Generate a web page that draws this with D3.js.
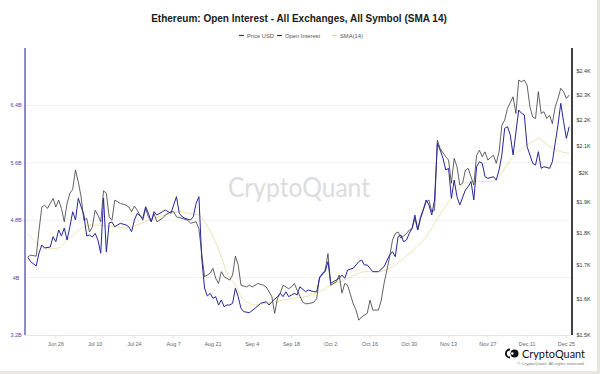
<!DOCTYPE html>
<html><head><meta charset="utf-8">
<script src="https://cdn.jsdelivr.net/npm/d3@7"></script>
<style>body{margin:0;background:#fff;overflow:hidden} svg{display:block;font-family:"Liberation Sans",Arial,sans-serif;}</style>
</head><body><svg id="chart" width="600" height="374"></svg>
<script>
// ---------- data ----------
const firstDay = "2023-06-15";           // day 0 of the day offsets below
const xDomain = ["2023-06-15", "2023-12-27"];
const xTickDates = ["2023-06-26","2023-07-10","2023-07-24","2023-08-07","2023-08-21","2023-09-04","2023-09-18","2023-10-02","2023-10-16","2023-10-30","2023-11-13","2023-11-27","2023-12-11","2023-12-25"];
const leftTicks = [3.2, 4, 4.8, 5.6, 6.4];
const leftTickLabels = ["3.2B","4B","4.8B","5.6B","6.4B"];
const leftDomain = [3.2, 7.2];
const rightTicks = [1500,1600,1700,1800,1900,2000,2100,2200,2300,2400];
const rightTickLabels = ["$1.5K","$1.6K","$1.7K","$1.8K","$1.9K","$2K","$2.1K","$2.2K","$2.3K","$2.4K"];
const rightDomain = [1500, 2500];
const seriesNames = ["Price USD","Open Interest","SMA(14)"];

const priceDays = [1,2,4,5,6,7,8,9,10,11,12,13,14,15,16,17,18,19,20,21,22,23,24,25,26,27,28,29,30,31,32,34,36,37,38,39,40,42,43,44,45,46,47,49,50,52,53,54,56,58,59,61,62,63,64,65,66,67,68,69,70,71,72,73,74,75,76,77,79,80,81,83,85,86,88,89,90,91,92,94,95,96,97,99,100,101,103,104,105,106,107,108,109,111,112,113,114,115,117,118,119,120,122,123,124,126,127,128,130,131,132,133,134,136,137,138,139,140,141,143,144,145,146,147,148,150,151,152,153,154,155,156,157,158,159,160,161,162,163,164,165,167,168,169,170,171,172,174,175,176,177,178,179,180,181,182,183,184,185,186,187,188,189,190,191,192,193,194];
const priceUSD = [1724,1729,1726,1808,1884,1890,1879,1896,1913,1884,1907,1879,1835,1896,1930,1944,2012,1970,1918,1840,1846,1802,1818,1873,1857,1835,1939,1930,1851,1840,1907,1896,1890,1884,1868,1887,1873,1840,1879,1851,1835,1862,1835,1846,1857,1868,1868,1851,1846,1840,1830,1835,1812,1734,1664,1669,1674,1689,1659,1644,1679,1664,1659,1654,1669,1726,1699,1639,1634,1639,1634,1644,1639,1634,1606,1559,1601,1616,1639,1629,1634,1644,1625,1590,1586,1586,1590,1601,1664,1669,1684,1734,1639,1649,1669,1616,1644,1639,1586,1568,1540,1549,1559,1596,1568,1568,1596,1644,1724,1776,1797,1802,1782,1797,1808,1813,1846,1808,1851,1901,1907,1868,1873,2122,2090,2060,2048,1965,2054,2024,1959,1965,2012,2018,1988,1959,2066,2084,2060,2078,2048,2066,2036,2078,2179,2199,2245,2292,2225,2361,2354,2361,2340,2251,2211,2205,2313,2225,2232,2205,2218,2185,2251,2285,2327,2313,2285,2299];

const oiDays = [1,2,4,5,6,7,9,10,11,12,13,14,15,16,17,18,19,20,21,22,23,24,25,26,27,28,29,30,31,32,34,36,37,38,39,40,42,43,44,45,46,47,49,50,52,53,54,55,56,57,59,60,61,62,63,64,65,66,67,68,69,70,71,72,73,74,75,76,77,78,80,82,84,86,87,88,90,91,92,93,94,96,97,98,100,101,103,104,105,106,107,108,109,111,112,113,114,115,117,119,120,121,122,124,126,128,130,131,132,133,134,135,136,137,138,139,140,141,142,143,144,145,146,147,148,149,150,151,152,153,154,155,157,158,159,160,161,162,163,164,165,167,168,169,170,171,172,173,174,176,177,178,179,181,182,183,184,185,187,188,189,190,191,192,193,194];
const openInterest = [4.283,4.222,4.162,4.343,4.454,4.413,4.426,4.570,4.500,4.663,4.580,4.691,4.524,4.709,4.918,4.803,5.105,4.988,4.872,4.580,4.594,4.566,4.617,4.524,4.339,5.109,4.357,4.761,4.775,4.709,4.757,4.733,4.709,4.640,4.803,4.896,4.826,4.988,4.896,4.779,4.918,4.872,4.918,4.942,4.896,5.012,5.128,4.896,4.849,4.826,4.803,4.849,5.035,5.128,4.273,3.855,3.744,3.781,3.711,3.734,3.618,3.688,3.594,3.618,3.618,3.642,3.851,3.734,3.572,3.525,3.511,3.572,3.642,3.664,3.618,3.664,3.734,3.781,3.734,3.803,3.734,3.781,3.757,3.873,3.803,3.827,3.803,3.803,3.990,4.060,4.082,4.222,3.921,3.967,3.990,4.036,3.990,4.106,4.130,4.222,4.245,4.176,4.176,4.082,4.082,4.152,4.315,4.361,4.291,4.570,4.594,4.500,4.524,4.617,4.687,4.872,4.663,4.826,4.942,5.082,5.012,4.872,5.082,5.872,5.778,5.663,5.500,5.523,5.105,5.360,5.128,5.012,5.221,5.267,5.337,5.082,5.546,5.615,5.593,5.406,5.384,5.406,5.360,5.500,5.709,6.081,6.103,5.987,5.709,6.336,6.290,6.266,5.824,5.593,5.569,5.755,5.523,5.546,5.523,5.615,5.872,6.127,6.429,6.173,5.941,6.103];

const smaDays = [1,5,8,12,14,18,21,25,29,32,36,39,43,46,50,55,58,62,64,67,70,72,75,77,80,82,86,90,95,100,105,109,114,119,121,126,131,135,139,143,146,149,152,157,160,164,168,171,174,178,182,183,185,188,191,194];
const sma14 = [4.608,4.454,4.399,4.413,4.482,4.622,4.709,4.733,4.719,4.709,4.691,4.719,4.779,4.826,4.872,4.918,4.896,4.872,4.779,4.570,4.291,4.060,3.897,3.734,3.642,3.618,3.642,3.664,3.711,3.734,3.803,3.897,3.967,4.060,4.082,4.082,4.152,4.269,4.408,4.570,4.757,4.942,5.105,5.314,5.346,5.337,5.360,5.523,5.685,5.824,5.918,5.941,5.886,5.802,5.755,5.732];

// ---------- chart ----------
const svg = d3.select("#chart");
const W = 600, H = 374;
const m = {left: 25, right: 572, top: 48, bottom: 335};
const parse = d3.timeParse("%Y-%m-%d");
const t0 = parse(firstDay);
const toDate = d => d3.timeDay.offset(t0, d);

const x = d3.scaleTime().domain(xDomain.map(parse)).range([m.left, m.right]);
const yL = d3.scaleLinear().domain(leftDomain).range([m.bottom, m.top]);
const yR = d3.scaleLog().domain(rightDomain).range([m.bottom, m.top]);

const colPrice = "#3a3a3a", colOI = "#26269a", colSMA = "#ecdfa6";

svg.append("rect").attr("width", W).attr("height", H).attr("fill", "#fff");

// gridlines
svg.append("g").selectAll("line").data(leftTicks.slice(1)).join("line")
  .attr("x1", m.left).attr("x2", m.right)
  .attr("y1", d => yL(d)).attr("y2", d => yL(d))
  .attr("stroke", "#ececec").attr("stroke-width", 0.8);

// watermark
svg.append("text").attr("x", 299).attr("y", 197).attr("text-anchor", "middle")
  .attr("font-family", "Lato, 'Open Sans', sans-serif").attr("font-size", 26)
  .attr("textLength", 142).attr("lengthAdjust", "spacingAndGlyphs")
  .attr("fill", "#dcdce0").text("CryptoQuant");

// x axis baseline and ticks
svg.append("line").attr("x1", m.left).attr("x2", m.right).attr("y1", m.bottom + 0.5).attr("y2", m.bottom + 0.5)
  .attr("stroke", "#e6e6e6").attr("stroke-width", 1);
const xt = svg.append("g");
const xtd = xTickDates.map(parse);
xt.selectAll("line").data(xtd).join("line")
  .attr("x1", d => x(d)).attr("x2", d => x(d)).attr("y1", m.bottom).attr("y2", m.bottom + 3)
  .attr("stroke", "#dcdcdc").attr("stroke-width", 0.8);
xt.selectAll("text").data(xtd).join("text")
  .attr("x", d => x(d)).attr("y", 345.5).attr("text-anchor", "middle")
  .attr("font-size", 5.4).attr("fill", "#666").text(d3.timeFormat("%b %-d"));

// lines
const line = (xs, ys, yScale) => d3.line().x((d, i) => x(toDate(xs[i]))).y((d, i) => yScale(ys[i]));
svg.append("path").datum(sma14).attr("fill", "none").attr("stroke", colSMA).attr("stroke-width", 0.9)
  .attr("d", line(smaDays, sma14, yL).curve(d3.curveMonotoneX));
svg.append("path").datum(priceUSD).attr("fill", "none").attr("stroke", colPrice).attr("stroke-width", 0.8)
  .attr("stroke-linejoin", "round").attr("d", line(priceDays, priceUSD, yR));
svg.append("path").datum(openInterest).attr("fill", "none").attr("stroke", colOI).attr("stroke-width", 1)
  .attr("stroke-linejoin", "round").attr("d", line(oiDays, openInterest, yL));

// left axis
svg.append("line").attr("x1", m.left).attr("x2", m.left).attr("y1", m.top).attr("y2", m.bottom)
  .attr("stroke", "#6f6fbf").attr("stroke-width", 1.6);
svg.append("g").selectAll("text").data(leftTicks).join("text")
  .attr("x", 16).attr("y", d => yL(d) + 2).attr("text-anchor", "middle")
  .attr("font-size", 5.4).attr("fill", "#4848a8").text((d, i) => leftTickLabels[i]);

// right axis
svg.append("line").attr("x1", m.right).attr("x2", m.right).attr("y1", m.top).attr("y2", m.bottom)
  .attr("stroke", "#111").attr("stroke-width", 1.6);
svg.append("g").selectAll("text").data(rightTicks).join("text")
  .attr("x", 583.5).attr("y", d => yR(d) + 2).attr("text-anchor", "middle")
  .attr("font-size", 5.4).attr("fill", "#333").text((d, i) => rightTickLabels[i]);

// title
svg.append("text").attr("x", 299).attr("y", 22).attr("text-anchor", "middle")
  .attr("font-size", 10).attr("font-weight", "bold").attr("fill", "#1a1a1a")
  .text("Ethereum: Open Interest - All Exchanges, All Symbol (SMA 14)");

// legend
const legCols = [colPrice, colOI, "#e6d58f"];
const legX = [239, 277, 332];
const lg = svg.append("g");
seriesNames.forEach((n, i) => {
  lg.append("line").attr("x1", legX[i]).attr("x2", legX[i] + 5).attr("y1", 35.5).attr("y2", 35.5)
    .attr("stroke", legCols[i]).attr("stroke-width", 1.2);
  lg.append("text").attr("x", legX[i] + 8).attr("y", 37.5).attr("font-size", 5.8).attr("fill", "#555").text(n);
});

// footer logo
const fg = svg.append("g");
fg.append("path").attr("d", "M510,348.5 A5,5 0 0,0 510,358.5 L510,356.6 A3.1,3.1 0 0,1 510,350.4 Z").attr("fill", "#111");
fg.append("circle").attr("cx", 514.5).attr("cy", 353.5).attr("r", 4).attr("fill", "#111");
fg.append("circle").attr("cx", 512.3).attr("cy", 353.5).attr("r", 1.3).attr("fill", "#fff");
fg.append("text").attr("x", 522).attr("y", 357.5).attr("font-family", "Lato, 'Open Sans', sans-serif")
  .attr("font-size", 11.5).attr("textLength", 63).attr("lengthAdjust", "spacingAndGlyphs")
  .attr("fill", "#111").text("CryptoQuant");
fg.append("text").attr("x", 585).attr("y", 364.5).attr("text-anchor", "end").attr("font-size", 4.4)
  .attr("fill", "#777").text("© CryptoQuant. All rights reserved.");

// frame border (right and bottom)
svg.append("rect").attr("x", 597).attr("y", 0).attr("width", 3).attr("height", H).attr("fill", "#ebe6dd");
svg.append("rect").attr("x", 0).attr("y", 371).attr("width", W).attr("height", 3).attr("fill", "#ebe6dd");
</script></body></html>
